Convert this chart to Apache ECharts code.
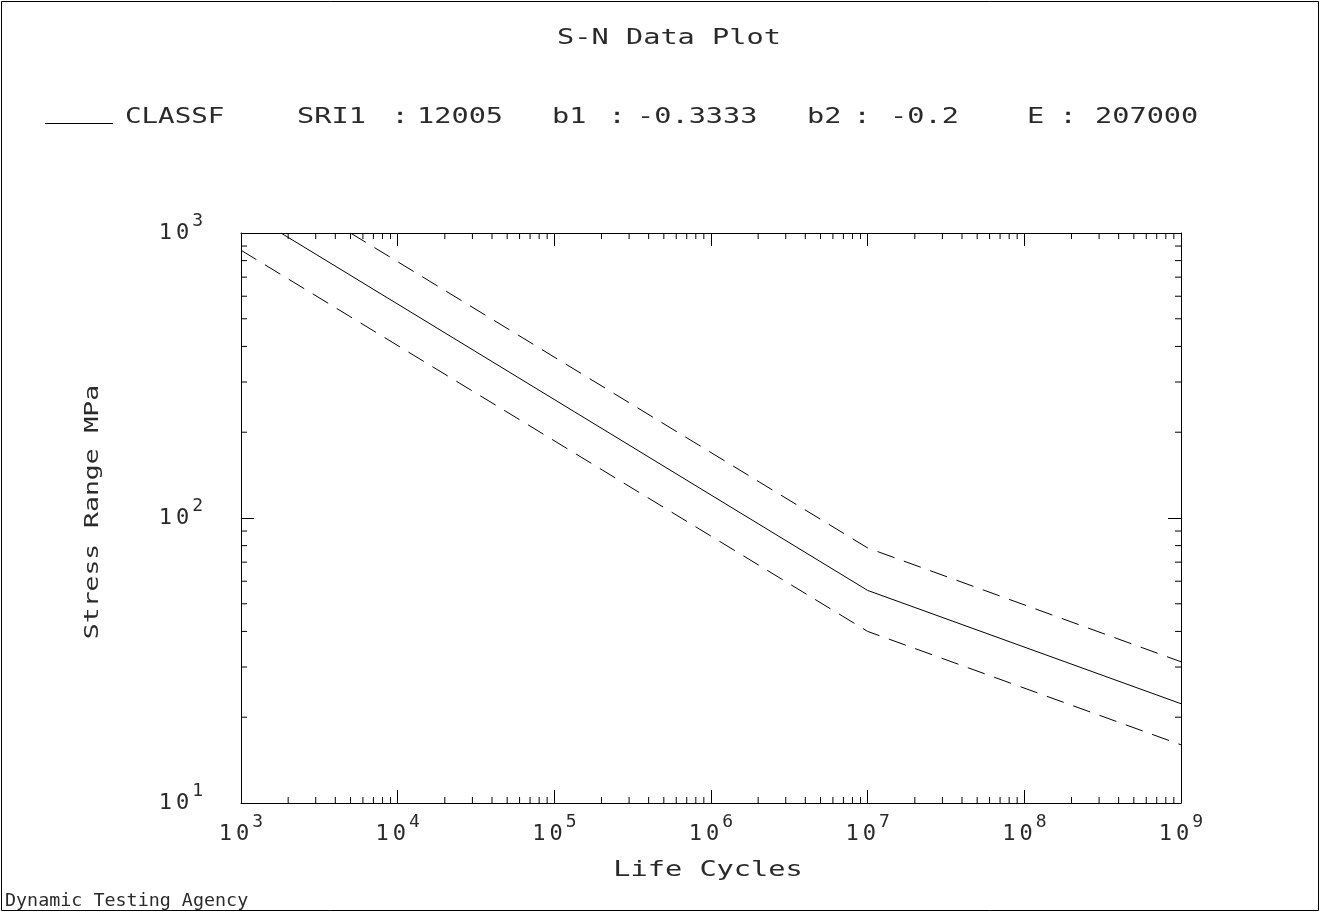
<!DOCTYPE html>
<html>
<head>
<meta charset="utf-8">
<script src="https://cdn.jsdelivr.net/npm/echarts@6/dist/echarts.min.js"></script>
<style>
html,body{margin:0;padding:0;background:#fff;}
#chart{width:1320px;height:912px;}
</style>
</head>
<body>
<div id="chart"></div>
<script>
// ---- data ----
const solidN = [1800, 1e7, 1e9];
const solidS = [1000, 55.7, 22.3];
const upperN = [5000, 1e7, 1e9];
const upperS = [1000, 78.5, 31.3];
const lowerN = [1000, 1e7, 1e9];
const lowerS = [870, 40, 16];
const xDecades = [1e3, 1e4, 1e5, 1e6, 1e7, 1e8];
const yDecades = [10, 100];
const minorMultipliers = [2, 3, 4, 5, 6, 7, 8, 9];
const titleText = 'S-N Data Plot';
const legendName = 'CLASSF';
const paramTokens = ['SRI1', ':', '12005', 'b1', ':', '-0.3333', 'b2', ':', '-0.2', 'E', ':', '207000'];
const paramX = [297, 400, 417, 552, 617, 637, 807, 862, 890, 1027, 1068, 1095];
const paramAlign = ['left', 'center', 'left', 'left', 'center', 'left', 'left', 'center', 'left', 'left', 'center', 'left'];
const xName = 'Life Cycles';
const yName = 'Stress Range MPa';
const footer = 'Dynamic Testing Agency';

const FONT = '"DejaVu Sans Mono", "Liberation Mono", monospace';
const INK = '#2a2a2a';

function pairs(xs, ys) { return xs.map((x, i) => [x, ys[i]]); }
const xMinor = [];
xDecades.forEach(d => minorMultipliers.forEach(m => xMinor.push([d * m])));
const yMinor = [];
yDecades.forEach(d => minorMultipliers.forEach(m => yMinor.push([d * m])));

const chart = echarts.init(document.getElementById('chart'), null, {renderer: 'canvas'});

function expLabel(v) {
  const e = Math.round(Math.log10(v));
  return '{a|1}{c|0}{s|' + e + '}';
}
const richLab = {
  a: {fontFamily: FONT, fontSize: 22, lineHeight: 42, color: INK},
  c: {fontFamily: FONT, fontSize: 22, lineHeight: 42, color: INK, padding: [0, 0, 0, 4]},
  s: {fontFamily: FONT, fontSize: 18, lineHeight: 18, color: INK, verticalAlign: 'top', padding: [0, 0, 0, 3]}
};

const axisCommon = {
  type: 'log', logBase: 10,
  axisLine: {show: true, onZero: false, lineStyle: {color: '#000', width: 1}},
  axisTick: {show: true, inside: true, length: 13, lineStyle: {color: '#000', width: 1}},
  splitLine: {show: false},
  minorTick: {show: false}
};

const txt = (text, x, y, opts) => ({
  type: 'text', x: x, y: y, scaleX: opts.scaleX || 1, rotation: opts.rotation || 0,
  silent: true,
  style: {text: text, font: (opts.size || 22) + 'px ' + FONT, fill: INK,
          textAlign: opts.align || 'left', textVerticalAlign: 'middle'}
});

const graphics = [
  {type: 'rect', shape: {x: 1.5, y: 1.5, width: 1317, height: 909}, style: {fill: null, stroke: '#000', lineWidth: 1}, silent: true},
  txt(titleText, 669, 38, {align: 'center', scaleX: 1.3}),
  {type: 'line', shape: {x1: 45, y1: 123.5, x2: 113, y2: 123.5}, style: {stroke: '#000', lineWidth: 1}, silent: true},
  txt(legendName, 125, 117, {scaleX: 1.25}),
  txt(xName, 708, 870, {align: 'center', scaleX: 1.3}),
  txt(yName, 93, 512, {align: 'center', scaleX: 1.32, rotation: Math.PI / 2, size: 20}),
  txt(footer, 5, 901, {size: 18, scaleX: 1.02})
];
paramTokens.forEach((t, i) => graphics.push(txt(t, paramX[i], 117, {scaleX: 1.3, align: paramAlign[i]})));

function minorX(params, api) {
  const x = api.value(0);
  const b = api.coord([x, 10]);
  const t = api.coord([x, 1000]);
  const st = {stroke: '#000', lineWidth: 1};
  return {type: 'group', children: [
    {type: 'line', shape: {x1: b[0], y1: b[1], x2: b[0], y2: b[1] - 6}, style: st},
    {type: 'line', shape: {x1: t[0], y1: t[1], x2: t[0], y2: t[1] + 6}, style: st}
  ]};
}
function minorY(params, api) {
  const y = api.value(0);
  const l = api.coord([1e3, y]);
  const r = api.coord([1e9, y]);
  const st = {stroke: '#000', lineWidth: 1};
  return {type: 'group', children: [
    {type: 'line', shape: {x1: l[0], y1: l[1], x2: l[0] + 6, y2: l[1]}, style: st},
    {type: 'line', shape: {x1: r[0], y1: r[1], x2: r[0] - 6, y2: r[1]}, style: st}
  ]};
}

const option = {
  backgroundColor: '#fff',
  animation: false,
  grid: {left: 241, top: 233, width: 940, height: 570, show: false},
  xAxis: [
    Object.assign({}, axisCommon, {position: 'bottom', min: 1e3, max: 1e9, splitNumber: 6,
      axisLabel: {show: true, margin: 10, formatter: expLabel, rich: richLab}}),
    Object.assign({}, axisCommon, {position: 'top', min: 1e3, max: 1e9, splitNumber: 6,
      axisLabel: {show: false}})
  ],
  yAxis: [
    Object.assign({}, axisCommon, {position: 'left', min: 10, max: 1000, splitNumber: 2,
      axisLabel: {show: true, margin: 38, formatter: expLabel, rich: richLab}}),
    Object.assign({}, axisCommon, {position: 'right', min: 10, max: 1000, splitNumber: 2,
      axisLabel: {show: false}})
  ],
  graphic: graphics,
  series: [
    {name: 'CLASSF', type: 'line', data: pairs(solidN, solidS), symbol: 'none', silent: true,
     lineStyle: {color: '#000', width: 1}},
    {name: 'upper', type: 'line', data: pairs(upperN, upperS), symbol: 'none', silent: true,
     lineStyle: {color: '#000', width: 1, type: [18, 10]}},
    {name: 'lower', type: 'line', data: pairs(lowerN, lowerS), symbol: 'none', silent: true,
     lineStyle: {color: '#000', width: 1, type: [18, 10]}},
    {type: 'custom', renderItem: minorX, data: xMinor, silent: true, clip: false, encode: {x: 0}},
    {type: 'custom', renderItem: minorY, data: yMinor, silent: true, clip: false, encode: {y: 0}}
  ]
};
chart.setOption(option);
</script>
</body>
</html>
